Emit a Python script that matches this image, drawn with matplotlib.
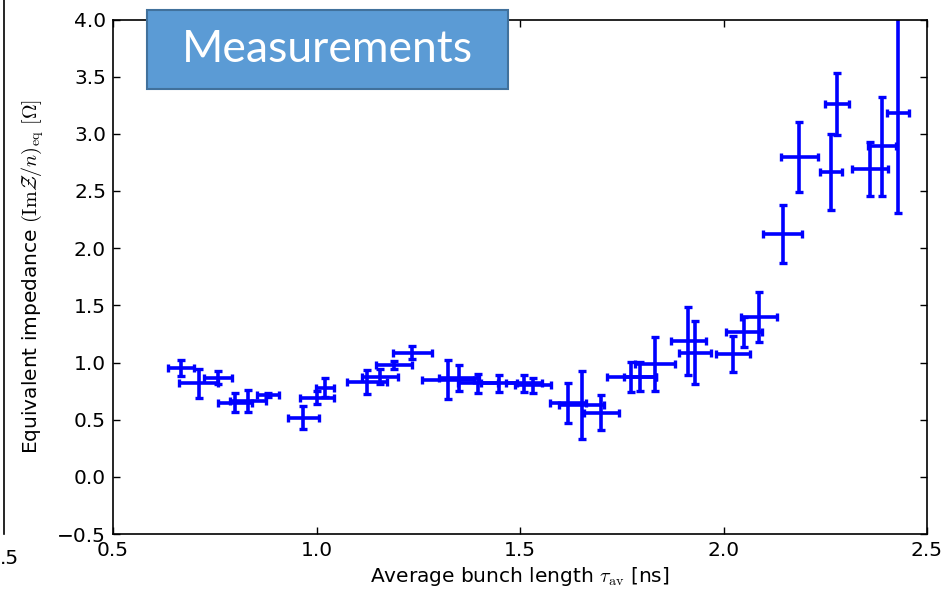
import matplotlib
matplotlib.use("Agg")
import matplotlib.pyplot as plt
from matplotlib.patches import Rectangle
from matplotlib.lines import Line2D

plt.rcParams['mathtext.fontset'] = 'cm'
plt.rcParams['font.family'] = ['DejaVu Sans']

# bunch length (ns) and its error
tau = [0.667, 0.711, 0.758, 0.800, 0.832, 0.881, 0.967, 1.001, 1.021, 1.124,
       1.156, 1.190, 1.235, 1.323, 1.350, 1.397, 1.448, 1.510, 1.532, 1.618,
       1.652, 1.700, 1.773, 1.795, 1.832, 1.913, 1.930, 2.023, 2.050, 2.087,
       2.146, 2.186, 2.264, 2.279, 2.360, 2.390, 2.429]
tau_err = [0.031, 0.048, 0.034, 0.042, 0.045, 0.027, 0.038, 0.042, 0.023, 0.050,
           0.045, 0.045, 0.048, 0.064, 0.050, 0.050, 0.045, 0.045, 0.045, 0.045,
           0.055, 0.043, 0.060, 0.040, 0.050, 0.043, 0.040, 0.042, 0.045, 0.044,
           0.048, 0.045, 0.027, 0.030, 0.045, 0.034, 0.028]
# equivalent impedance (Ohm) and its error
zeq = [0.95, 0.82, 0.865, 0.647, 0.664, 0.717, 0.516, 0.69, 0.778, 0.83,
       0.874, 0.98, 1.084, 0.848, 0.865, 0.82, 0.82, 0.82, 0.80, 0.647,
       0.63, 0.56, 0.874, 0.874, 0.988, 1.19, 1.084, 1.075, 1.267, 1.40,
       2.124, 2.797, 2.666, 3.26, 2.69, 2.89, 3.18]
zeq_err = [0.07, 0.127, 0.057, 0.083, 0.096, 0.02, 0.10, 0.057, 0.083, 0.105,
           0.066, 0.035, 0.057, 0.17, 0.114, 0.083, 0.074, 0.074, 0.066, 0.175,
           0.297, 0.153, 0.13, 0.127, 0.236, 0.297, 0.275, 0.157, 0.135, 0.22,
           0.254, 0.306, 0.332, 0.27, 0.236, 0.43, 0.87]

xticks = [0.5, 1.0, 1.5, 2.0, 2.5]
yticks = [-0.5, 0.0, 0.5, 1.0, 1.5, 2.0, 2.5, 3.0, 3.5, 4.0]

fig = plt.figure(figsize=(9.51, 5.97), dpi=100)
ax = fig.add_axes([113/951, 1 - 534/597, (927-113)/951, (534-19.5)/597])

ax.errorbar(tau, zeq, xerr=tau_err, yerr=zeq_err, fmt='none', ecolor='#0000ff',
            elinewidth=2.6, capsize=3.0, capthick=2.4)

ax.set_xlim(0.5, 2.5)
ax.set_ylim(-0.5, 4.0)
ax.set_xticks(xticks)
ax.set_yticks(yticks)
ax.set_xticklabels([f"{v:.1f}" for v in xticks])
ax.set_yticklabels([f"{v:.1f}".replace('-', '\u2212') for v in yticks])
ax.tick_params(direction='in', top=True, right=True, length=5, width=1,
               labelsize=14.5, pad=5)
for s in ax.spines.values():
    s.set_linewidth(1.2)

ax.set_xlabel(r'Average bunch length $\tau_\mathrm{av}$ [ns]', fontsize=14.5, labelpad=4)
ax.set_ylabel(r'Equivalent impedance $(\mathrm{Im}\mathcal{Z}/n)_\mathrm{eq}$ $[\Omega]$',
              fontsize=14.5, labelpad=8)

# "Measurements" box
box = Rectangle((147/951, 1 - 89/597), (508-147)/951, (89-10)/597,
                transform=fig.transFigure, facecolor='#5B9BD5', edgecolor='#41719C',
                linewidth=1.5, zorder=10)
fig.add_artist(box)
fig.text((147+508)/2/951, 1 - 50/597, 'Measurements', color='white', fontsize=32,
         family='Lato', ha='center', va='center', zorder=11)

# remnants of neighbouring figure at left edge
fig.add_artist(Line2D([4/951, 4/951], [1 - 534/597, 1.0], transform=fig.transFigure,
                      color='black', linewidth=1.2))
fig.text(0.0, 1 - 558/597, '.5', fontsize=14.5, ha='left', va='center')

fig.savefig('out.png', dpi=100)
